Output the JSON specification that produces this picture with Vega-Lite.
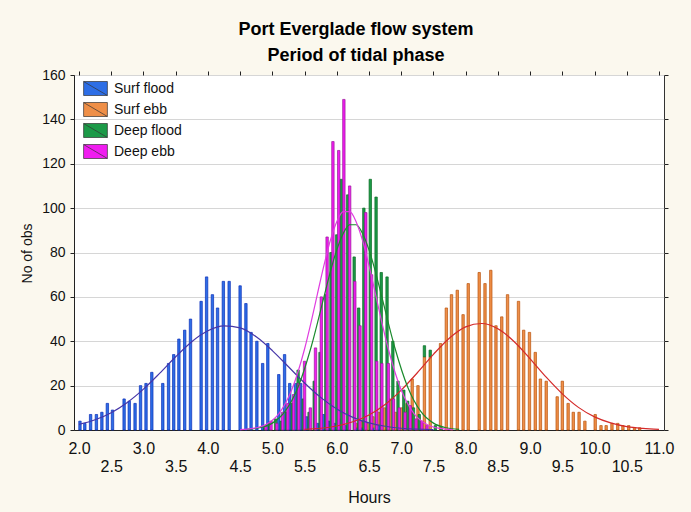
{
  "$schema": "https://vega.github.io/schema/vega-lite/v6.json",
  "width": 590,
  "height": 355,
  "autosize": {"type": "none"},
  "padding": {"left": 74, "top": 75, "right": 27, "bottom": 82},
  "background": "#fbf8ee",
  "title": {
    "text": ["Port Everglade flow system", "Period of tidal phase"],
    "font": "Liberation Sans",
    "fontSize": 18,
    "fontWeight": "bold",
    "color": "#000000",
    "lineHeight": 26,
    "anchor": "middle",
    "frame": "group",
    "dx": -13,
    "offset": 3
  },
  "config": {
    "font": "Liberation Sans",
    "view": {"fill": "white", "stroke": "#333333", "strokeWidth": 1},
    "axis": {"labelColor": "#111111", "titleColor": "#111111", "domainColor": "#222222", "tickColor": "#222222", "titleFontWeight": "normal"}
  },
  "datasets": {
    "bars": [
      {"hours": 2.015, "count": 4, "series": "Surf flood"},
      {"hours": 2.09, "count": 3, "series": "Surf flood"},
      {"hours": 2.18, "count": 7, "series": "Surf flood"},
      {"hours": 2.27, "count": 7, "series": "Surf flood"},
      {"hours": 2.355, "count": 8, "series": "Surf flood"},
      {"hours": 2.44, "count": 12, "series": "Surf flood"},
      {"hours": 2.52, "count": 9, "series": "Surf flood"},
      {"hours": 2.70, "count": 14, "series": "Surf flood"},
      {"hours": 2.78, "count": 13, "series": "Surf flood"},
      {"hours": 2.87, "count": 12, "series": "Surf flood"},
      {"hours": 2.955, "count": 20, "series": "Surf flood"},
      {"hours": 3.04, "count": 21, "series": "Surf flood"},
      {"hours": 3.13, "count": 26, "series": "Surf flood"},
      {"hours": 3.30, "count": 21, "series": "Surf flood"},
      {"hours": 3.39, "count": 30, "series": "Surf flood"},
      {"hours": 3.47, "count": 34, "series": "Surf flood"},
      {"hours": 3.55, "count": 41, "series": "Surf flood"},
      {"hours": 3.64, "count": 45, "series": "Surf flood"},
      {"hours": 3.73, "count": 50, "series": "Surf flood"},
      {"hours": 3.895, "count": 58, "series": "Surf flood"},
      {"hours": 3.98, "count": 69, "series": "Surf flood"},
      {"hours": 4.07, "count": 61, "series": "Surf flood"},
      {"hours": 4.15, "count": 55, "series": "Surf flood"},
      {"hours": 4.24, "count": 67, "series": "Surf flood"},
      {"hours": 4.33, "count": 67, "series": "Surf flood"},
      {"hours": 4.50, "count": 65, "series": "Surf flood"},
      {"hours": 4.59, "count": 57, "series": "Surf flood"},
      {"hours": 4.67, "count": 44, "series": "Surf flood"},
      {"hours": 4.76, "count": 40, "series": "Surf flood"},
      {"hours": 4.85, "count": 30, "series": "Surf flood"},
      {"hours": 4.93, "count": 39, "series": "Surf flood"},
      {"hours": 5.10, "count": 25, "series": "Surf flood"},
      {"hours": 5.19, "count": 34, "series": "Surf flood"},
      {"hours": 5.27, "count": 21, "series": "Surf flood"},
      {"hours": 5.36, "count": 21, "series": "Surf flood"},
      {"hours": 5.44, "count": 21, "series": "Surf flood"},
      {"hours": 5.53, "count": 6, "series": "Surf flood"},
      {"hours": 5.70, "count": 3, "series": "Surf flood"},
      {"hours": 5.79, "count": 7, "series": "Surf flood"},
      {"hours": 5.87, "count": 4, "series": "Surf flood"},
      {"hours": 5.96, "count": 3, "series": "Surf flood"},
      {"hours": 6.04, "count": 5, "series": "Surf flood"},
      {"hours": 6.13, "count": 2, "series": "Surf flood"},
      {"hours": 6.30, "count": 1, "series": "Surf flood"},
      {"hours": 6.39, "count": 1, "series": "Surf flood"},
      {"hours": 6.56, "count": 1, "series": "Surf flood"},
      {"hours": 6.65, "count": 2, "series": "Surf flood"},
      {"hours": 6.30, "count": 2, "series": "Surf ebb"},
      {"hours": 6.39, "count": 3, "series": "Surf ebb"},
      {"hours": 6.47, "count": 3, "series": "Surf ebb"},
      {"hours": 6.56, "count": 5, "series": "Surf ebb"},
      {"hours": 6.65, "count": 6, "series": "Surf ebb"},
      {"hours": 6.74, "count": 10, "series": "Surf ebb"},
      {"hours": 6.82, "count": 14, "series": "Surf ebb"},
      {"hours": 6.91, "count": 8, "series": "Surf ebb"},
      {"hours": 7.01, "count": 10, "series": "Surf ebb"},
      {"hours": 7.09, "count": 12, "series": "Surf ebb"},
      {"hours": 7.17, "count": 23, "series": "Surf ebb"},
      {"hours": 7.26, "count": 20, "series": "Surf ebb"},
      {"hours": 7.36, "count": 33, "series": "Surf ebb"},
      {"hours": 7.45, "count": 33, "series": "Surf ebb"},
      {"hours": 7.61, "count": 39, "series": "Surf ebb"},
      {"hours": 7.70, "count": 55, "series": "Surf ebb"},
      {"hours": 7.78, "count": 61, "series": "Surf ebb"},
      {"hours": 7.87, "count": 63, "series": "Surf ebb"},
      {"hours": 7.96, "count": 52, "series": "Surf ebb"},
      {"hours": 8.04, "count": 66, "series": "Surf ebb"},
      {"hours": 8.21, "count": 71, "series": "Surf ebb"},
      {"hours": 8.30, "count": 66, "series": "Surf ebb"},
      {"hours": 8.39, "count": 72, "series": "Surf ebb"},
      {"hours": 8.47, "count": 47, "series": "Surf ebb"},
      {"hours": 8.56, "count": 51, "series": "Surf ebb"},
      {"hours": 8.65, "count": 61, "series": "Surf ebb"},
      {"hours": 8.82, "count": 58, "series": "Surf ebb"},
      {"hours": 8.90, "count": 45, "series": "Surf ebb"},
      {"hours": 8.99, "count": 44, "series": "Surf ebb"},
      {"hours": 9.08, "count": 35, "series": "Surf ebb"},
      {"hours": 9.16, "count": 23, "series": "Surf ebb"},
      {"hours": 9.25, "count": 22, "series": "Surf ebb"},
      {"hours": 9.42, "count": 15, "series": "Surf ebb"},
      {"hours": 9.50, "count": 22, "series": "Surf ebb"},
      {"hours": 9.59, "count": 12, "series": "Surf ebb"},
      {"hours": 9.67, "count": 8, "series": "Surf ebb"},
      {"hours": 9.76, "count": 8, "series": "Surf ebb"},
      {"hours": 9.85, "count": 4, "series": "Surf ebb"},
      {"hours": 10.01, "count": 7, "series": "Surf ebb"},
      {"hours": 10.10, "count": 2, "series": "Surf ebb"},
      {"hours": 10.18, "count": 2, "series": "Surf ebb"},
      {"hours": 10.27, "count": 3, "series": "Surf ebb"},
      {"hours": 10.36, "count": 3, "series": "Surf ebb"},
      {"hours": 10.44, "count": 2, "series": "Surf ebb"},
      {"hours": 10.53, "count": 2, "series": "Surf ebb"},
      {"hours": 10.62, "count": 1, "series": "Surf ebb"},
      {"hours": 10.70, "count": 1, "series": "Surf ebb"},
      {"hours": 4.88, "count": 1, "series": "Deep flood"},
      {"hours": 4.96, "count": 3, "series": "Deep flood"},
      {"hours": 5.05, "count": 5, "series": "Deep flood"},
      {"hours": 5.14, "count": 4, "series": "Deep flood"},
      {"hours": 5.22, "count": 8, "series": "Deep flood"},
      {"hours": 5.31, "count": 12, "series": "Deep flood"},
      {"hours": 5.40, "count": 27, "series": "Deep flood"},
      {"hours": 5.48, "count": 14, "series": "Deep flood"},
      {"hours": 5.57, "count": 8, "series": "Deep flood"},
      {"hours": 5.65, "count": 22, "series": "Deep flood"},
      {"hours": 5.74, "count": 35, "series": "Deep flood"},
      {"hours": 5.83, "count": 61, "series": "Deep flood"},
      {"hours": 5.91, "count": 80, "series": "Deep flood"},
      {"hours": 6.00, "count": 88, "series": "Deep flood"},
      {"hours": 6.07, "count": 113, "series": "Deep flood"},
      {"hours": 6.17, "count": 106, "series": "Deep flood"},
      {"hours": 6.27, "count": 78, "series": "Deep flood"},
      {"hours": 6.34, "count": 55, "series": "Deep flood"},
      {"hours": 6.42, "count": 100, "series": "Deep flood"},
      {"hours": 6.52, "count": 113, "series": "Deep flood"},
      {"hours": 6.61, "count": 105, "series": "Deep flood"},
      {"hours": 6.69, "count": 71, "series": "Deep flood"},
      {"hours": 6.78, "count": 69, "series": "Deep flood"},
      {"hours": 6.87, "count": 40, "series": "Deep flood"},
      {"hours": 6.95, "count": 22, "series": "Deep flood"},
      {"hours": 7.04, "count": 18, "series": "Deep flood"},
      {"hours": 7.10, "count": 13, "series": "Deep flood"},
      {"hours": 7.19, "count": 10, "series": "Deep flood"},
      {"hours": 7.28, "count": 7, "series": "Deep flood"},
      {"hours": 7.36, "count": 5, "series": "Deep flood"},
      {"hours": 7.45, "count": 3, "series": "Deep flood"},
      {"hours": 7.53, "count": 2, "series": "Deep flood"},
      {"hours": 7.62, "count": 1, "series": "Deep flood"},
      {"hours": 4.90, "count": 2, "series": "Deep ebb"},
      {"hours": 4.98, "count": 4, "series": "Deep ebb"},
      {"hours": 5.07, "count": 3, "series": "Deep ebb"},
      {"hours": 5.16, "count": 8, "series": "Deep ebb"},
      {"hours": 5.24, "count": 12, "series": "Deep ebb"},
      {"hours": 5.33, "count": 16, "series": "Deep ebb"},
      {"hours": 5.41, "count": 21, "series": "Deep ebb"},
      {"hours": 5.50, "count": 31, "series": "Deep ebb"},
      {"hours": 5.59, "count": 10, "series": "Deep ebb"},
      {"hours": 5.67, "count": 37, "series": "Deep ebb"},
      {"hours": 5.76, "count": 60, "series": "Deep ebb"},
      {"hours": 5.85, "count": 87, "series": "Deep ebb"},
      {"hours": 5.94, "count": 130, "series": "Deep ebb"},
      {"hours": 6.03, "count": 126, "series": "Deep ebb"},
      {"hours": 6.11, "count": 149, "series": "Deep ebb"},
      {"hours": 6.20, "count": 110, "series": "Deep ebb"},
      {"hours": 6.28, "count": 67, "series": "Deep ebb"},
      {"hours": 6.36, "count": 47, "series": "Deep ebb"},
      {"hours": 6.45, "count": 98, "series": "Deep ebb"},
      {"hours": 6.54, "count": 70, "series": "Deep ebb"},
      {"hours": 6.62, "count": 31, "series": "Deep ebb"},
      {"hours": 6.70, "count": 30, "series": "Deep ebb"},
      {"hours": 6.80, "count": 30, "series": "Deep ebb"},
      {"hours": 6.88, "count": 14, "series": "Deep ebb"},
      {"hours": 6.97, "count": 10, "series": "Deep ebb"},
      {"hours": 7.06, "count": 8, "series": "Deep ebb"},
      {"hours": 7.14, "count": 11, "series": "Deep ebb"},
      {"hours": 7.23, "count": 5, "series": "Deep ebb"},
      {"hours": 7.32, "count": 4, "series": "Deep ebb"},
      {"hours": 7.40, "count": 2, "series": "Deep ebb"}
    ],
    "fits": [
      {"hours": 2.0, "count": 2.5, "series": "Surf flood"},
      {"hours": 2.25, "count": 4.6, "series": "Surf flood"},
      {"hours": 2.5, "count": 7.8, "series": "Surf flood"},
      {"hours": 2.75, "count": 12.4, "series": "Surf flood"},
      {"hours": 3.0, "count": 18.4, "series": "Surf flood"},
      {"hours": 3.25, "count": 25.5, "series": "Surf flood"},
      {"hours": 3.5, "count": 33.0, "series": "Surf flood"},
      {"hours": 3.75, "count": 39.8, "series": "Surf flood"},
      {"hours": 4.0, "count": 44.7, "series": "Surf flood"},
      {"hours": 4.25, "count": 46.9, "series": "Surf flood"},
      {"hours": 4.5, "count": 46.0, "series": "Surf flood"},
      {"hours": 4.75, "count": 42.0, "series": "Surf flood"},
      {"hours": 5.0, "count": 35.8, "series": "Surf flood"},
      {"hours": 5.25, "count": 28.5, "series": "Surf flood"},
      {"hours": 5.5, "count": 21.2, "series": "Surf flood"},
      {"hours": 5.75, "count": 14.7, "series": "Surf flood"},
      {"hours": 6.0, "count": 9.5, "series": "Surf flood"},
      {"hours": 6.25, "count": 5.7, "series": "Surf flood"},
      {"hours": 6.5, "count": 3.2, "series": "Surf flood"},
      {"hours": 6.75, "count": 1.7, "series": "Surf flood"},
      {"hours": 7.0, "count": 0.8, "series": "Surf flood"},
      {"hours": 7.5, "count": 0.2, "series": "Surf flood"},
      {"hours": 5.5, "count": 0.3, "series": "Surf ebb"},
      {"hours": 5.75, "count": 0.8, "series": "Surf ebb"},
      {"hours": 6.0, "count": 1.8, "series": "Surf ebb"},
      {"hours": 6.25, "count": 3.7, "series": "Surf ebb"},
      {"hours": 6.5, "count": 6.8, "series": "Surf ebb"},
      {"hours": 6.75, "count": 11.5, "series": "Surf ebb"},
      {"hours": 7.0, "count": 18.0, "series": "Surf ebb"},
      {"hours": 7.25, "count": 25.8, "series": "Surf ebb"},
      {"hours": 7.5, "count": 34.1, "series": "Surf ebb"},
      {"hours": 7.75, "count": 41.5, "series": "Surf ebb"},
      {"hours": 8.0, "count": 46.5, "series": "Surf ebb"},
      {"hours": 8.25, "count": 48.0, "series": "Surf ebb"},
      {"hours": 8.5, "count": 45.6, "series": "Surf ebb"},
      {"hours": 8.75, "count": 39.9, "series": "Surf ebb"},
      {"hours": 9.0, "count": 32.1, "series": "Surf ebb"},
      {"hours": 9.25, "count": 23.8, "series": "Surf ebb"},
      {"hours": 9.5, "count": 16.3, "series": "Surf ebb"},
      {"hours": 9.75, "count": 10.2, "series": "Surf ebb"},
      {"hours": 10.0, "count": 5.9, "series": "Surf ebb"},
      {"hours": 10.25, "count": 3.2, "series": "Surf ebb"},
      {"hours": 10.5, "count": 1.5, "series": "Surf ebb"},
      {"hours": 10.75, "count": 0.7, "series": "Surf ebb"},
      {"hours": 11.0, "count": 0.3, "series": "Surf ebb"},
      {"hours": 4.6, "count": 0.25, "series": "Deep flood"},
      {"hours": 4.8, "count": 1.0, "series": "Deep flood"},
      {"hours": 5.0, "count": 3.1, "series": "Deep flood"},
      {"hours": 5.2, "count": 8.5, "series": "Deep flood"},
      {"hours": 5.4, "count": 19.4, "series": "Deep flood"},
      {"hours": 5.6, "count": 37.2, "series": "Deep flood"},
      {"hours": 5.8, "count": 59.9, "series": "Deep flood"},
      {"hours": 5.9, "count": 71.3, "series": "Deep flood"},
      {"hours": 6.0, "count": 81.2, "series": "Deep flood"},
      {"hours": 6.1, "count": 88.6, "series": "Deep flood"},
      {"hours": 6.2, "count": 92.5, "series": "Deep flood"},
      {"hours": 6.3, "count": 92.5, "series": "Deep flood"},
      {"hours": 6.4, "count": 88.6, "series": "Deep flood"},
      {"hours": 6.5, "count": 81.2, "series": "Deep flood"},
      {"hours": 6.6, "count": 71.3, "series": "Deep flood"},
      {"hours": 6.7, "count": 59.9, "series": "Deep flood"},
      {"hours": 6.9, "count": 37.2, "series": "Deep flood"},
      {"hours": 7.1, "count": 19.4, "series": "Deep flood"},
      {"hours": 7.3, "count": 8.5, "series": "Deep flood"},
      {"hours": 7.5, "count": 3.1, "series": "Deep flood"},
      {"hours": 7.7, "count": 1.0, "series": "Deep flood"},
      {"hours": 7.9, "count": 0.25, "series": "Deep flood"},
      {"hours": 4.5, "count": 0.2, "series": "Deep ebb"},
      {"hours": 4.7, "count": 0.7, "series": "Deep ebb"},
      {"hours": 4.9, "count": 2.5, "series": "Deep ebb"},
      {"hours": 5.1, "count": 7.3, "series": "Deep ebb"},
      {"hours": 5.3, "count": 18.0, "series": "Deep ebb"},
      {"hours": 5.5, "count": 36.5, "series": "Deep ebb"},
      {"hours": 5.6, "count": 48.4, "series": "Deep ebb"},
      {"hours": 5.7, "count": 61.4, "series": "Deep ebb"},
      {"hours": 5.8, "count": 74.1, "series": "Deep ebb"},
      {"hours": 5.9, "count": 85.4, "series": "Deep ebb"},
      {"hours": 6.0, "count": 93.9, "series": "Deep ebb"},
      {"hours": 6.1, "count": 98.4, "series": "Deep ebb"},
      {"hours": 6.2, "count": 98.4, "series": "Deep ebb"},
      {"hours": 6.3, "count": 93.9, "series": "Deep ebb"},
      {"hours": 6.4, "count": 85.4, "series": "Deep ebb"},
      {"hours": 6.5, "count": 74.1, "series": "Deep ebb"},
      {"hours": 6.6, "count": 61.4, "series": "Deep ebb"},
      {"hours": 6.7, "count": 48.4, "series": "Deep ebb"},
      {"hours": 6.8, "count": 36.5, "series": "Deep ebb"},
      {"hours": 7.0, "count": 18.0, "series": "Deep ebb"},
      {"hours": 7.2, "count": 7.3, "series": "Deep ebb"},
      {"hours": 7.4, "count": 2.5, "series": "Deep ebb"},
      {"hours": 7.6, "count": 0.7, "series": "Deep ebb"},
      {"hours": 7.8, "count": 0.2, "series": "Deep ebb"}
    ]
  },
  "layer": [
    {
      "data": {"name": "bars"},
      "mark": {"type": "bar", "width": 2.4, "strokeWidth": 0.7},
      "encoding": {
        "x": {
          "field": "hours",
          "type": "quantitative",
          "scale": {"domain": [2, 11], "nice": false, "zero": false},
          "axis": {
            "orient": "bottom",
            "values": [2, 2.5, 3, 3.5, 4, 4.5, 5, 5.5, 6, 6.5, 7, 7.5, 8, 8.5, 9, 9.5, 10, 10.5, 11],
            "format": ".1f",
            "ticks": false,
            "grid": false,
            "labelOverlap": false,
            "labelFlush": false,
            "labelFontSize": 16,
            "labelPadding": {"condition": {"test": "datum.value % 1 !== 0", "value": 28}, "value": 10},
            "title": "Hours",
            "titleFontSize": 16,
            "titleX": 295,
            "titleY": 67,
            "titleBaseline": "middle"
          }
        },
        "y": {
          "field": "count",
          "type": "quantitative",
          "scale": {"domain": [0, 160], "nice": false},
          "axis": {
            "orient": "left",
            "values": [0, 20, 40, 60, 80, 100, 120, 140, 160],
            "grid": true,
            "gridColor": "#d6d6d6",
            "tickSize": 4,
            "labelPadding": 5,
            "labelFontSize": 14,
            "title": "No of obs",
            "titleFontSize": 14,
            "titleAngle": 270,
            "titleX": -47,
            "titleY": 178,
            "titleAlign": "center",
            "titleBaseline": "middle"
          }
        },
        "fill": {
          "field": "series",
          "type": "nominal",
          "scale": {
            "domain": ["Surf flood", "Surf ebb", "Deep flood", "Deep ebb"],
            "range": ["#2d6ee6", "#ef8f48", "#1c9a48", "#f01cf0"]
          },
          "legend": {
            "title": null,
            "orient": "none",
            "legendX": 14,
            "legendY": 6,
            "symbolType": "M-1.7,-1H1.7V1H-1.7Z M-1.7,-1L1.7,1",
            "symbolSize": 196,
            "symbolStrokeColor": "#333333",
            "symbolStrokeWidth": 0.7,
            "labelFontSize": 14,
            "labelColor": "#111111",
            "labelOffset": 11,
            "rowPadding": 4
          }
        },
        "stroke": {
          "field": "series",
          "type": "nominal",
          "scale": {
            "domain": ["Surf flood", "Surf ebb", "Deep flood", "Deep ebb"],
            "range": ["#0a2cb8", "#b8520c", "#0a6a22", "#9a1a9a"]
          },
          "legend": null
        }
      }
    },
    {
      "data": {"name": "fits"},
      "mark": {"type": "line", "strokeWidth": 1.2, "interpolate": "monotone"},
      "encoding": {
        "x": {
          "field": "hours",
          "type": "quantitative",
          "axis": {
            "orient": "top",
            "values": [2, 2.5, 3, 3.5, 4, 4.5, 5, 5.5, 6, 6.5, 7, 7.5, 8, 8.5, 9, 9.5, 10, 10.5, 11],
            "labels": false,
            "tickSize": 4,
            "domain": false,
            "grid": false,
            "title": null
          }
        },
        "y": {
          "field": "count",
          "type": "quantitative",
          "axis": {
            "orient": "right",
            "values": [0, 20, 40, 60, 80, 100, 120, 140, 160],
            "labels": false,
            "tickSize": 4,
            "domain": false,
            "grid": false,
            "title": null
          }
        },
        "stroke": {
          "field": "series",
          "type": "nominal",
          "scale": {
            "domain": ["Surf flood", "Surf ebb", "Deep flood", "Deep ebb"],
            "range": ["#4636a8", "#d42a2a", "#1a8a2c", "#e03ce0"]
          },
          "legend": null
        }
      }
    }
  ],
  "resolve": {"scale": {"stroke": "independent"}}
}
